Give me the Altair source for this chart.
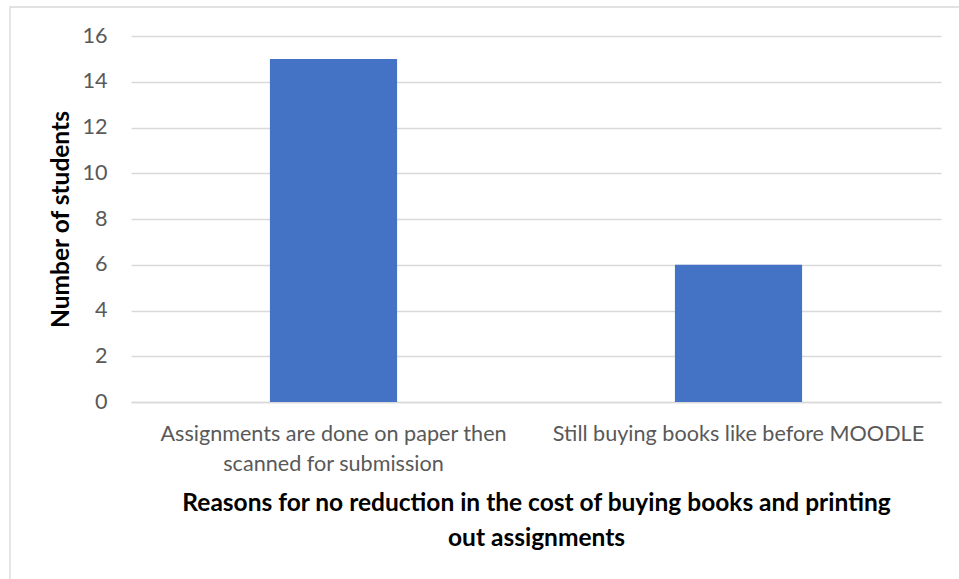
import altair as alt
import pandas as pd

categories = [
    "Assignments are done on paper then\nscanned for submission",
    "Still buying books like before MOODLE",
]
students = [15, 6]
y_ticks = [0, 2, 4, 6, 8, 10, 12, 14, 16]

df = pd.DataFrame({"reason": categories, "students": students})

FONT = "Lato"
LABEL_SIZE = 21.6
TITLE_SIZE = 24.5

bars = alt.Chart(df).mark_bar(color="#4472C4").encode(
    x=alt.X(
        "reason:N",
        sort=categories,
        scale=alt.Scale(paddingInner=0.686, paddingOuter=0.343),
        axis=alt.Axis(
            title=["Reasons for no reduction in the cost of buying books and printing", "out assignments"],
            titleFont=FONT,
            titleFontSize=TITLE_SIZE,
            titleFontWeight="bold",
            titleColor="#000000",
            titleX=405,
            titleY=108,
            titleAlign="center",
            titleBaseline="alphabetic",
            titleLineHeight=35,
            labelExpr="split(datum.label, '\\n')",
            labelAngle=0,
            labelFont=FONT,
            labelFontSize=LABEL_SIZE,
            labelColor="#595959",
            labelBaseline="alphabetic",
            labelPadding=38,
            labelLineHeight=30,
            labelLimit=0,
            ticks=False,
            domain=True,
            domainColor="#d9d9d9",
            domainWidth=1.3,
            grid=False,
        ),
    ),
    y=alt.Y(
        "students:Q",
        scale=alt.Scale(domain=[0, 16], nice=False),
        axis=alt.Axis(
            values=y_ticks,
            title="Number of students",
            titleFont=FONT,
            titleFontSize=TITLE_SIZE,
            titleFontWeight="bold",
            titleColor="#000000",
            titleAngle=-90,
            titleX=-70,
            titleY=183,
            titleAlign="center",
            titleBaseline="middle",
            labelFont=FONT,
            labelFontSize=LABEL_SIZE,
            labelColor="#595959",
            labelPadding=24,
            ticks=False,
            domain=False,
            grid=True,
            gridColor="#d9d9d9",
            gridWidth=1.3,
        ),
    ),
)

border = alt.Chart(pd.DataFrame({"a": [0]})).mark_rect(
    fill="white", fillOpacity=0, stroke="#d9d9d9", strokeWidth=1.3
).encode(
    x=alt.value(-121),
    x2=alt.value(900),
    y=alt.value(-29),
    y2=alt.value(600),
)

chart = alt.layer(border, bars).properties(
    width=810,
    height=366,
    autosize=alt.AutoSizeParams(type="none"),
    padding={"left": 131, "top": 36, "right": 18, "bottom": 177},
    background="white",
).configure_view(stroke=None)

chart.save("out.html", embed_options={"renderer": "svg", "actions": False})
